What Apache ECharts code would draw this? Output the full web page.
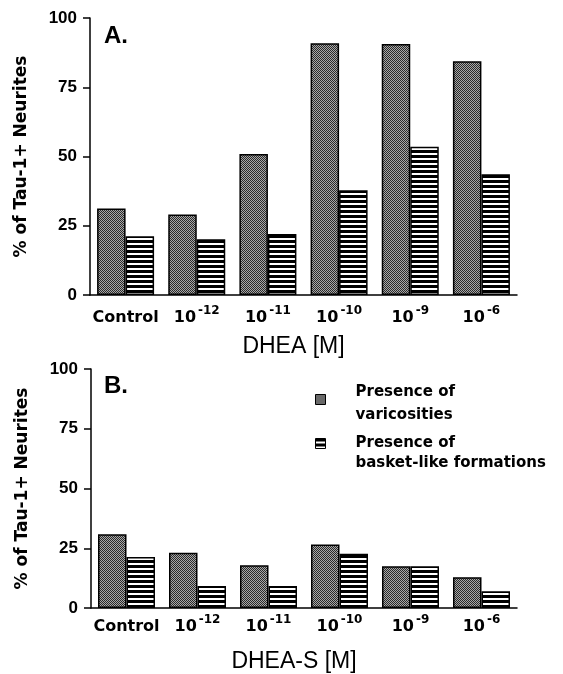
<!DOCTYPE html>
<html>
<head>
<meta charset="utf-8" />
<title>DHEA / DHEA-S</title>
<style type="text/css">
  body, html, #chart {
    width: 100%;
    height: 100%;
    margin: 0;
    overflow: hidden;
    background: #fff;
  }
</style>
</head>
<body>
<div id="chart"></div>
<script src="https://cdn.jsdelivr.net/npm/echarts@6/dist/echarts.min.js"></script>
<script>
// categories (concentration), '^' marks the exponent
var categories = ['Control', '10^-12', '10^-11', '10^-10', '10^-9', '10^-6'];
var yTicks = [0, 25, 50, 75, 100];

// panel A: DHEA
var dheaVaricosities = [31.2, 29.1, 50.9, 90.9, 90.6, 84.4];
var dheaBasket = [21.2, 20.1, 22, 37.8, 53.5, 43.6];

// panel B: DHEA-S
var dheasVaricosities = [30.9, 23.1, 17.9, 26.6, 17.5, 12.9];
var dheasBasket = [21.3, 9.2, 9.2, 22.7, 17.5, 7];

var nameVar = 'Presence of varicosities';
var nameBasket = 'Presence of basket-like formations';

// fill textures
function makeTile(w, h, draw) {
  var c = document.createElement('canvas');
  c.width = w;
  c.height = h;
  draw(c.getContext('2d'));
  return c;
}
var stipple = makeTile(2, 2, function (ctx) {
  ctx.fillStyle = '#a8a8a8';
  ctx.fillRect(0, 0, 2, 2);
  ctx.fillStyle = '#2a2a2a';
  ctx.fillRect(0, 0, 1, 1);
  ctx.fillRect(1, 1, 1, 1);
});
var stripes = makeTile(4, 5, function (ctx) {
  ctx.fillStyle = '#fff';
  ctx.fillRect(0, 0, 4, 5);
  ctx.fillStyle = '#000';
  ctx.fillRect(0, 0, 4, 3);
});
var varStyle = { color: { image: stipple, repeat: 'repeat' }, borderColor: '#000', borderWidth: 1.5 };
var basketStyle = { color: { image: stripes, repeat: 'repeat' }, borderColor: '#000', borderWidth: 1.5 };

var tickFont = 'DejaVu Sans';
function catLabel(v) {
  if (v.indexOf('^') < 0) return '{b|' + v + '}';
  var p = v.split('^');
  return '{b|' + p[0] + '}{s|' + p[1] + '}';
}
function xAxisFor(grid, title, margin, gap) {
  return {
    type: 'category',
    gridIndex: grid,
    data: categories,
    name: title,
    nameLocation: 'middle',
    nameGap: gap,
    nameTextStyle: { fontFamily: 'Liberation Sans', fontSize: 23, color: '#000', padding: [0, 20, 0, 0] },
    axisLine: { lineStyle: { color: '#000', width: 1.5 } },
    axisTick: { alignWithLabel: true, length: 6, lineStyle: { color: '#000', width: 1.5 } },
    axisLabel: {
      interval: 0,
      margin: margin,
      formatter: catLabel,
      rich: {
        b: { fontFamily: tickFont, fontWeight: 'bold', fontSize: 16, color: '#000', lineHeight: 26 },
        s: { fontFamily: tickFont, fontWeight: 'bold', fontSize: 12, color: '#000', lineHeight: 12, verticalAlign: 'top', padding: [0, 0, 0, 2] }
      }
    }
  };
}
function yAxisFor(grid) {
  return {
    type: 'value',
    gridIndex: grid,
    min: 0,
    max: 100,
    interval: 25,
    name: '% of Tau-1+ Neurites',
    nameLocation: 'middle',
    nameGap: 60,
    nameTextStyle: { fontFamily: tickFont, fontWeight: 'bold', fontSize: 17, color: '#000' },
    axisLine: { show: true, lineStyle: { color: '#000', width: 1.5 } },
    axisTick: { show: true, length: 7, lineStyle: { color: '#000', width: 1.5 } },
    axisLabel: {
      margin: 13,
      fontFamily: 'Liberation Sans',
      fontWeight: 'bold',
      fontSize: 17,
      color: '#000',
      customValues: yTicks
    },
    splitLine: { show: false }
  };
}
function bar(name, x, y, data, style) {
  return {
    type: 'bar',
    name: name,
    xAxisIndex: x,
    yAxisIndex: y,
    data: data,
    barWidth: 28.5,
    barGap: '0%',
    itemStyle: style,
    emphasis: { disabled: true }
  };
}
var legendFont = { fontFamily: tickFont, fontWeight: 'bold', fontSize: 15, color: '#000', padding: [0, 0, 0, 25] };

var chart = echarts.init(document.getElementById('chart'));
chart.setOption({
  animation: false,
  title: [
    { text: 'A.', left: 104, top: 24, padding: 0, textStyle: { fontFamily: 'Liberation Sans', fontWeight: 'bold', fontSize: 24, color: '#000' } },
    { text: 'B.', left: 104, top: 374, padding: 0, textStyle: { fontFamily: 'Liberation Sans', fontWeight: 'bold', fontSize: 24, color: '#000' } }
  ],
  legend: [
    {
      data: [nameVar],
      left: 315, top: 385, padding: 0,
      icon: 'rect', itemWidth: 10, itemHeight: 10, selectedMode: false,
      itemStyle: { borderColor: '#000', borderWidth: 1 },
      formatter: function () { return '{a|Presence of}\n{c|varicosities}'; },
      textStyle: {
        rich: {
          a: Object.assign({ lineHeight: 32 }, legendFont),
          c: Object.assign({ lineHeight: 14 }, legendFont)
        }
      }
    },
    {
      data: [nameBasket],
      left: 315, top: 416, padding: 0,
      icon: 'rect', itemWidth: 10, itemHeight: 10, selectedMode: false,
      itemStyle: { borderColor: '#000', borderWidth: 1 },
      formatter: function () { return '{e| }\n{a|Presence of}\n{a|basket-like formations}'; },
      textStyle: {
        rich: {
          e: Object.assign({ lineHeight: 20 }, legendFont),
          a: Object.assign({ lineHeight: 20 }, legendFont)
        }
      }
    }
  ],
  grid: [
    { left: 90, top: 18, width: 427, height: 277 },
    { left: 91, top: 369, width: 426, height: 243 }
  ],
  xAxis: [xAxisFor(0, 'DHEA [M]', 10, 40), xAxisFor(1, 'DHEA-S [M]', 6, 42)],
  yAxis: [yAxisFor(0), yAxisFor(1)],
  series: [
    bar(nameVar, 0, 0, dheaVaricosities, varStyle),
    bar(nameBasket, 0, 0, dheaBasket, basketStyle),
    bar(nameVar, 1, 1, dheasVaricosities, varStyle),
    bar(nameBasket, 1, 1, dheasBasket, basketStyle)
  ]
});
</script>
</body>
</html>
